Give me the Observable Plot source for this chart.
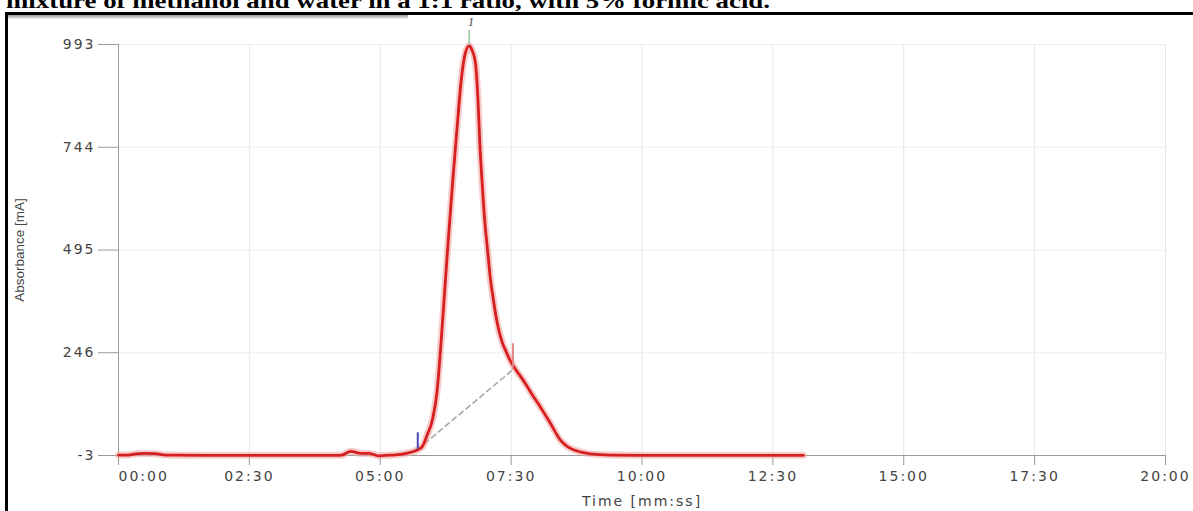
<!DOCTYPE html>
<html><head><meta charset="utf-8">
<script src="https://cdn.jsdelivr.net/npm/d3@7"></script>
<script src="https://cdn.jsdelivr.net/npm/@observablehq/plot@0.6"></script>
<style>
html,body{margin:0;padding:0;background:#fff;overflow:hidden;}
#page{position:relative;width:1193px;height:511px;}
#chart{position:absolute;left:0;top:0;}
#hdr{position:absolute;left:0;top:0;}
.bar{position:absolute;background:#000;}
</style></head><body>
<div id="page">
<div id="chart"></div>
<svg id="hdr" width="1193" height="20"><text x="6" y="7.5" font-family="Liberation Serif" font-weight="bold" font-size="22" textLength="764" lengthAdjust="spacingAndGlyphs">mixture of methanol and water in a 1:1 ratio, with 5% formic acid.</text></svg>
<div class="bar" style="left:5px;top:12px;width:1188px;height:3px"></div>
<div class="bar" style="left:5px;top:12px;width:3px;height:499px"></div>
<div style="position:absolute;left:8px;top:15px;width:400px;height:4px;background:linear-gradient(#9a9a9a,#f2f2f2)"></div>
</div>
<script>
// Chromatogram trace: time in seconds, absorbance in mAU
const timeSec = [0, 10, 14, 20, 30, 42, 54, 100, 200, 250, 256, 262, 266, 270, 275, 282, 287, 293, 298, 306, 315, 323, 331, 337, 343, 348, 354, 360, 365, 370, 374, 378, 383, 388, 393, 397, 402, 405, 409, 412, 414, 417, 420, 423, 426, 430, 433, 436, 440, 444, 449, 456, 464, 474, 484, 495, 507, 515, 524, 541, 564, 600, 700, 785];
const absorbance = [-2, -2, -1, 1, 2, 1.5, -2, -2.5, -2.5, -2.5, -2, 4, 7, 6, 3, 2, 2, -1, -4, -2.5, -2, 0, 3, 6, 11, 18, 48, 85, 150, 280, 400, 520, 660, 790, 910, 968, 990, 980, 950, 860, 760, 650, 560, 495, 430, 370, 330, 300, 270, 250, 227, 203, 179, 145, 113, 75, 33, 18, 9, 1, -2, -2.5, -2.5, -2.5];

const xTicks = [0, 150, 300, 450, 600, 750, 900, 1050, 1200];
const xTickLabels = ["00:00", "02:30", "05:00", "07:30", "10:00", "12:30", "15:00", "17:30", "20:00"];
const yTicks = [-3, 246, 495, 744, 993];

// integration markers (time s, absorbance mAU)
const peakStart = [343, 12];
const peakEnd = [452, 205];
const peakApexTime = [402];
const peakApexValue = [990];
const peakNames = ["1"];

const xTitle = "Time [mm:ss]";
const yTitle = "Absorbance [mA]";

const trace = timeSec.map((t, i) => ({t, v: absorbance[i]}));
const fmt = t => xTickLabels[xTicks.indexOf(t)];

const chart = Plot.plot({
  width: 1193, height: 511,
  marginLeft: 118, marginRight: 28, marginTop: 44, marginBottom: 56,
  x: {domain: [0, 1200]},
  y: {domain: [-3, 993]},
  style: {fontFamily: "DejaVu Sans", fontSize: "14px", background: "#fff", overflow: "visible"},
  marks: [
    Plot.ruleX(xTicks.slice(1), {y1: -3, y2: 993, stroke: "#e6e6e6"}),
    Plot.ruleY(yTicks.slice(1), {x1: 0, x2: 1200, stroke: "#eeeeee"}),
    Plot.ruleY([-3], {stroke: "#9a9a9a"}),
    Plot.ruleX([0], {y1: -3, y2: 993, stroke: "#9a9a9a"}),
    Plot.axisY({ticks: yTicks, tickSize: 20, tickPadding: 3, label: null, stroke: "#9a9a9a", fill: "#444", tickFormat: d => String(d)}),
    Plot.axisX({ticks: xTicks.slice(1), tickSize: 10, tickPadding: 6, label: null, stroke: "#9a9a9a", fill: "#444", tickFormat: fmt}),
    Plot.axisX({ticks: [0], tickSize: 10, tickPadding: 6, label: null, stroke: "#9a9a9a", fill: "#444", textAnchor: "start", tickFormat: fmt}),
    Plot.line([peakStart, peakEnd], {x: d => d[0], y: d => d[1], stroke: "#a8a8a8", strokeWidth: 1.6, strokeDasharray: "5,4"}),
    Plot.line(trace, {x: "t", y: "v", stroke: "#f4a8a8", strokeOpacity: 0.6, strokeWidth: 7, curve: "monotone-x"}),
    Plot.line(trace, {x: "t", y: "v", stroke: "#d61f1f", strokeWidth: 2.8, curve: "monotone-x"}),
    Plot.ruleX([peakStart[0]], {y1: peakStart[1], y2: peakStart[1] + 40, stroke: "#4a4aa8", strokeWidth: 2}),
    Plot.ruleX([peakEnd[0]], {y1: peakEnd[1], y2: peakEnd[1] + 63, stroke: "#e08484", strokeWidth: 2}),
    Plot.ruleX(peakApexTime, {y1: peakApexValue[0], y2: peakApexValue[0] + 37, stroke: "#9cc89c", strokeWidth: 1.5}),
    Plot.text(peakNames, {x: peakApexTime[0] + 2, y: peakApexValue[0] + 56, text: d => d, fontStyle: "italic", fontFamily: "Liberation Serif", fontSize: 12, fill: "#444"}),
    Plot.text([yTitle], {text: d => d, frameAnchor: "left", dx: -99, rotate: -90, textAnchor: "middle", lineAnchor: "middle", fontFamily: "Liberation Sans", fontSize: 13.5, fill: "#444"}),
    Plot.text([xTitle], {text: d => d, frameAnchor: "bottom", textAnchor: "middle", lineAnchor: "middle", dy: 46, fill: "#444", fontSize: 14})
  ]
});
document.getElementById("chart").appendChild(chart);
chart.querySelectorAll('g[aria-label="x-axis tick label"] text, g[aria-label="y-axis tick label"] text').forEach(t => t.style.letterSpacing = "2px");
chart.querySelectorAll('g[aria-label="text"] text').forEach(t => { if (t.textContent === xTitle) t.style.letterSpacing = "2px"; });
</script>
</body></html>
